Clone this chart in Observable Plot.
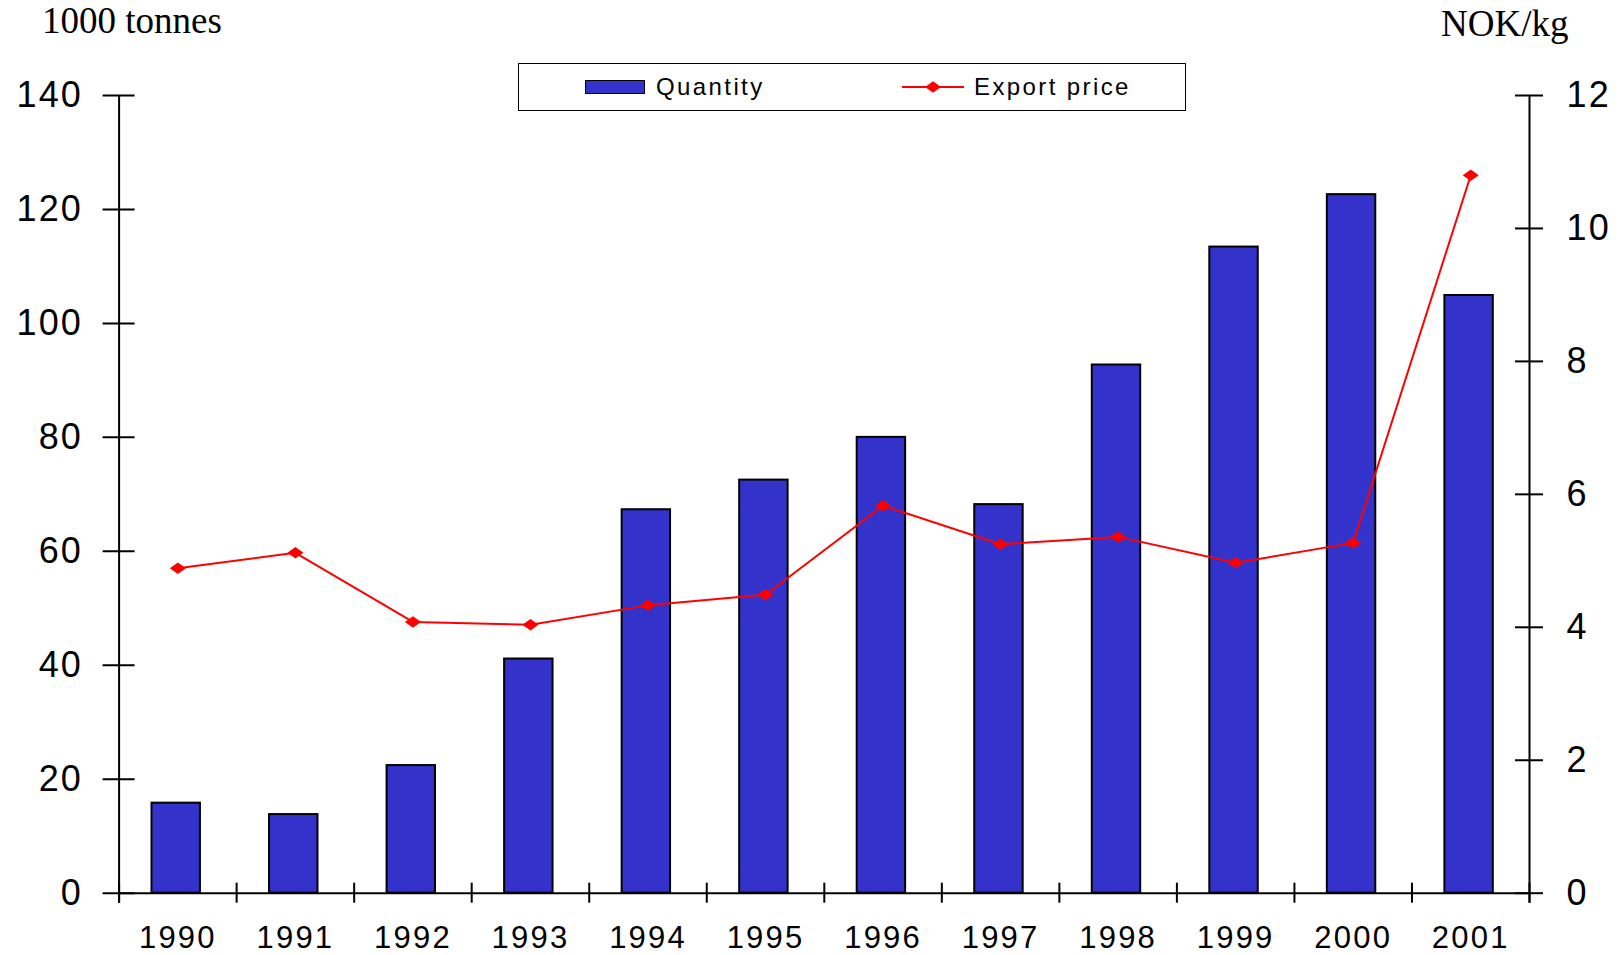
<!DOCTYPE html>
<html><head><meta charset="utf-8">
<script src="https://cdn.jsdelivr.net/npm/d3@7"></script>
<script src="https://cdn.jsdelivr.net/npm/@observablehq/plot@0.6"></script>
<style>
body{margin:0;background:#fff;}
#wrap{position:relative;width:1622px;height:955px;overflow:hidden;}
.serif{position:absolute;font-family:"Liberation Serif","Times New Roman",serif;font-size:37px;line-height:37px;color:#000;white-space:nowrap;}
#legend{position:absolute;left:518px;top:63px;width:666px;height:46px;border:1.5px solid #000;box-sizing:content-box;background:#fff;}
.ltext{position:absolute;font-family:"Liberation Sans",Arial,sans-serif;font-size:24px;line-height:24px;letter-spacing:2.4px;white-space:nowrap;color:#000;}
#wrap svg{position:absolute;left:0;top:0;}
</style></head><body>
<div id="wrap"></div>
<script>
const years = [1990,1991,1992,1993,1994,1995,1996,1997,1998,1999,2000,2001];
const quantity = [15.8,13.8,22.4,41.1,67.3,72.5,80.0,68.2,92.7,113.4,122.6,104.9];
const price = [4.89,5.12,4.08,4.04,4.33,4.49,5.83,5.25,5.36,4.97,5.27,10.80];
const leftTicks = [0,20,40,60,80,100,120,140];
const rightTicks = [0,2,4,6,8,10,12];
const leftTitle = "1000 tonnes";
const rightTitle = "NOK/kg";
const seriesNames = ["Quantity","Export price"];

const yMax = 140, pMax = 12, k = yMax / pMax;
const data = years.map((year, i) => ({year, q: quantity[i], p: price[i], py: price[i] * k}));
const x0 = years[0] - 0.5, x1 = years[years.length - 1] + 0.5;
const bounds = d3.range(x0, x1 + 0.001, 1);

const wideDiamond = {draw(ctx, size) {
  const s = Math.sqrt(size / Math.PI);
  const w = s, h = s * 0.72;
  ctx.moveTo(-w, 0); ctx.lineTo(0, -h); ctx.lineTo(w, 0); ctx.lineTo(0, h); ctx.closePath();
}};

const W = 1622, H = 955;
const mL = 118.6, mR = W - 1529, mT = 95, mB = H - 892.7;
const pxPerX = (W - mL - mR) / (x1 - x0);
const pxPerY = (H - mT - mB) / yMax;
const tx = v => v / pxPerX, ty = v => v / pxPerY;
const barHalf = 0.206, barShift = -0.014;

const chart = Plot.plot({
  width: W, height: H,
  marginLeft: mL, marginRight: mR, marginTop: mT, marginBottom: mB,
  x: {type: "linear", domain: [x0, x1]},
  y: {type: "linear", domain: [0, yMax]},
  style: {fontFamily: "'Liberation Sans', Arial, sans-serif", color: "#000", background: "#fff", overflow: "visible"},
  marks: [
    Plot.rectY(data, {x1: d => d.year + barShift - barHalf, x2: d => d.year + barShift + barHalf, y1: 0, y2: "q", fill: "#3333cc", stroke: "#000", strokeWidth: 2}),
    Plot.ruleY([0], {x1: x0, x2: x1, stroke: "#000", strokeWidth: 2}),
    Plot.ruleX([x0, x1], {y1: -ty(10), y2: yMax, stroke: "#000", strokeWidth: 2}),
    Plot.ruleX(bounds, {y1: -ty(10), y2: ty(10), stroke: "#000", strokeWidth: 2}),
    Plot.ruleY(leftTicks, {x1: x0 - tx(16), x2: x0 + tx(16), stroke: "#000", strokeWidth: 2}),
    Plot.ruleY(rightTicks.map(d => d * k), {x1: x1 - tx(14), x2: x1 + tx(14), stroke: "#000", strokeWidth: 2}),
    Plot.line(data, {x: "year", y: "py", stroke: "#ff0000", strokeWidth: 2}),
    Plot.dot(data, {x: "year", y: "py", r: 8, symbol: wideDiamond, fill: "#ff0000", stroke: null}),
    Plot.axisY({anchor: "left", ticks: leftTicks, tickSize: 0, tickPadding: 36, fontSize: 36, label: null, tickFormat: d => String(d)}),
    Plot.axisY({anchor: "right", ticks: rightTicks.map(d => d * k), tickSize: 0, tickPadding: 37, fontSize: 36, label: null, tickFormat: d => String(Math.round(d / k))}),
    Plot.axisX({anchor: "bottom", ticks: years, tickSize: 0, tickPadding: 33, fontSize: 31, label: null, tickFormat: d => String(d)})
  ]
});

const wrap = document.getElementById("wrap");
wrap.appendChild(chart);
chart.querySelectorAll('g[aria-label$="tick label"] text').forEach(t => t.style.letterSpacing = "2.2px");

function addDiv(cls, text, left, top) {
  const d = document.createElement("div");
  d.className = cls; d.textContent = text;
  d.style.left = left + "px"; d.style.top = top + "px";
  wrap.appendChild(d); return d;
}
addDiv("serif", leftTitle, 42, 2);
addDiv("serif", rightTitle, 1441, 5);

const legend = document.createElement("div");
legend.id = "legend";
wrap.appendChild(legend);
const sw = document.createElement("div");
Object.assign(sw.style, {position: "absolute", left: "585px", top: "80px", width: "58px", height: "12px", background: "#3333cc", border: "1.5px solid #000"});
wrap.appendChild(sw);
addDiv("ltext", seriesNames[0], 656, 75);
const ns = "http://www.w3.org/2000/svg";
const ls = document.createElementNS(ns, "svg");
ls.setAttribute("width", 70); ls.setAttribute("height", 20);
Object.assign(ls.style, {position: "absolute", left: "898px", top: "77px"});
ls.innerHTML = '<line x1="4" y1="10" x2="66" y2="10" stroke="#ff0000" stroke-width="2"/><path d="M27,10L35,4.2L43,10L35,15.8Z" fill="#ff0000"/>';
wrap.appendChild(ls);
addDiv("ltext", seriesNames[1], 974, 75);
</script>
</body></html>
